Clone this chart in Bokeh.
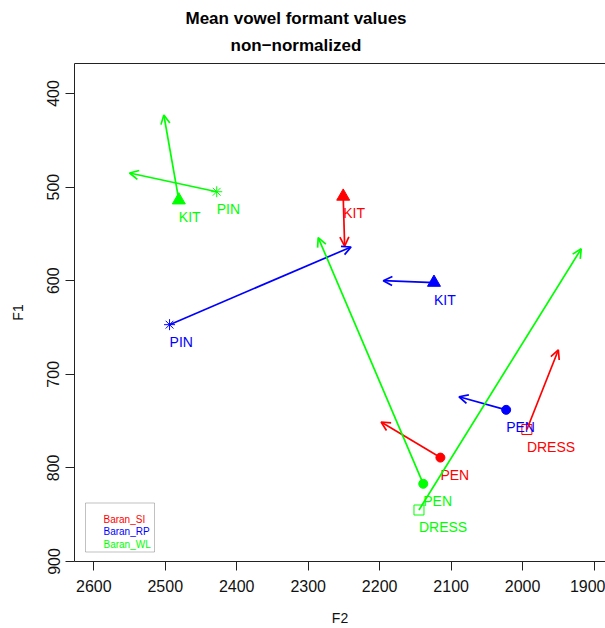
from bokeh.plotting import figure
from bokeh.models import (ColumnDataSource, Range1d, FixedTicker, LinearAxis, Title,
                          Arrow, OpenHead, Label, BoxAnnotation)
from bokeh.embed import file_html
from bokeh.resources import INLINE

# Mean formant values per speaker: marker at (F2_start, F1_start), arrow to (F2_end, F1_end)
speakers = ["Baran_SI", "Baran_RP", "Baran_WL"]
speaker_colors = ["#FF0000", "#0000FF", "#00FF00"]

si_vowels = ["KIT", "PEN", "DRESS"]
si_f2_start = [2251, 2115, 1994]
si_f1_start = [510, 789, 759]
si_f2_end = [2249, 2198, 1950]
si_f1_end = [563, 751, 674]

rp_vowels = ["PIN", "KIT", "PEN"]
rp_f2_start = [2494, 2124, 2023]
rp_f1_start = [647, 602, 738]
rp_f2_end = [2240, 2195, 2089]
rp_f1_end = [564, 600, 724]

wl_vowels = ["KIT", "PIN", "PEN", "DRESS"]
wl_f2_start = [2481, 2428, 2139, 2145]
wl_f1_start = [514, 505, 817, 845]
wl_f2_end = [2502, 2550, 2286, 1918]
wl_f1_end = [423, 485, 554, 566]

x_ticks = [2600, 2500, 2400, 2300, 2200, 2100, 2000, 1900]
y_ticks = [400, 500, 600, 700, 800, 900]

title_lines = ["Mean vowel formant values", "non\u2212normalized"]

vowel_markers = {"KIT": "triangle", "PIN": "asterisk", "PEN": "circle", "DRESS": "square"}

FONT = "Liberation Sans"

p = figure(width=605, height=628, title=None, output_backend="svg", toolbar_location=None,
           x_range=Range1d(2627, 1884), y_range=Range1d(900, 368),
           min_border_left=74, min_border_right=0, min_border_top=63, min_border_bottom=0)
p.outline_line_color = None
p.grid.visible = False
p.background_fill_color = "white"

for ax in (p.xaxis[0], p.yaxis[0]):
    ax.major_tick_out = 9
    ax.major_tick_in = 0
    ax.minor_tick_out = 0
    ax.minor_tick_in = 0
    ax.axis_line_color = "#222222"
    ax.major_tick_line_color = "#222222"
    ax.major_label_text_font = FONT
    ax.major_label_text_font_size = "16px"
    ax.major_label_text_color = "#111111"
    ax.axis_label_text_font = FONT
    ax.axis_label_text_font_size = "14px"
    ax.axis_label_text_font_style = "normal"
    ax.axis_label_text_color = "#111111"

p.xaxis.ticker = FixedTicker(ticks=x_ticks)
p.yaxis.ticker = FixedTicker(ticks=y_ticks)
p.xaxis.axis_label = "F2"
p.yaxis.axis_label = "F1"
p.xaxis.major_label_standoff = 9
p.xaxis.axis_label_standoff = 15
p.yaxis.major_label_orientation = "vertical"
p.yaxis.major_label_standoff = 6
p.yaxis.axis_label_standoff = 19

# top border of the plotting box
top = LinearAxis(ticker=FixedTicker(ticks=[]), major_tick_out=0, major_tick_in=0,
                 minor_tick_out=0, minor_tick_in=0, major_label_text_font_size="0px",
                 axis_line_color="#222222")
p.add_layout(top, "above")

# two-line bold title; later entries sit further from the plotting box
p.add_layout(Title(text=title_lines[1], align="left", offset=156, text_color="black",
                   vertical_align="top", text_font=FONT, text_font_size="17px",
                   text_font_style="bold", standoff=14), "above")
p.add_layout(Title(text=title_lines[0], align="left", offset=111, text_color="black",
                   text_font=FONT, text_font_size="17px", text_font_style="bold",
                   standoff=1), "above")

groups = [
    (si_vowels, si_f2_start, si_f1_start, si_f2_end, si_f1_end, speaker_colors[0]),
    (rp_vowels, rp_f2_start, rp_f1_start, rp_f2_end, rp_f1_end, speaker_colors[1]),
    (wl_vowels, wl_f2_start, wl_f1_start, wl_f2_end, wl_f1_end, speaker_colors[2]),
]

for vowels, f2s, f1s, f2e, f1e, col in groups:
    src = ColumnDataSource(dict(vowel=vowels, f2s=f2s, f1s=f1s, f2e=f2e, f1e=f1e))
    p.add_layout(Arrow(x_start="f2s", y_start="f1s", x_end="f2e", y_end="f1e", source=src,
                       line_color=col, line_width=1.7,
                       end=OpenHead(size=9, line_color=col, line_width=1.7)))
    for k, v in enumerate(vowels):
        sub = ColumnDataSource(dict(x=[f2s[k]], y=[f1s[k]]))
        m = vowel_markers[v]
        if m == "square":
            p.scatter("x", "y", source=sub, marker=m, size=10, fill_color=None,
                      line_color=col, line_width=1)
        elif m == "asterisk":
            p.scatter("x", "y", source=sub, marker=m, size=11, line_color=col, line_width=1)
        elif m == "triangle":
            p.scatter("x", "y", source=sub, marker=m, size=13, fill_color=col, line_color=col)
        else:
            p.scatter("x", "y", source=sub, marker=m, size=9, fill_color=col, line_color=col)
    p.text("f2s", "f1s", text="vowel", source=src, x_offset=0, y_offset=17,
           text_align="left", text_baseline="alphabetic", text_color=col,
           text_font={"value": FONT}, text_font_size="14px")

# legend box, in screen units from the lower left of the plotting box
p.add_layout(BoxAnnotation(left=11, right=80, bottom=9.5, top=58.5,
                           left_units="screen", right_units="screen",
                           bottom_units="screen", top_units="screen",
                           fill_color=None, line_color="#333333", line_width=1))
for i, (name, col) in enumerate(zip(speakers, speaker_colors)):
    p.add_layout(Label(x=29, y=42.5 - 12.5 * i, x_units="screen", y_units="screen",
                       text=name, text_color=col, text_font=FONT, text_font_size="10px",
                       text_align="left", text_baseline="alphabetic"))

open("out.html", "w").write(file_html(p, INLINE))
